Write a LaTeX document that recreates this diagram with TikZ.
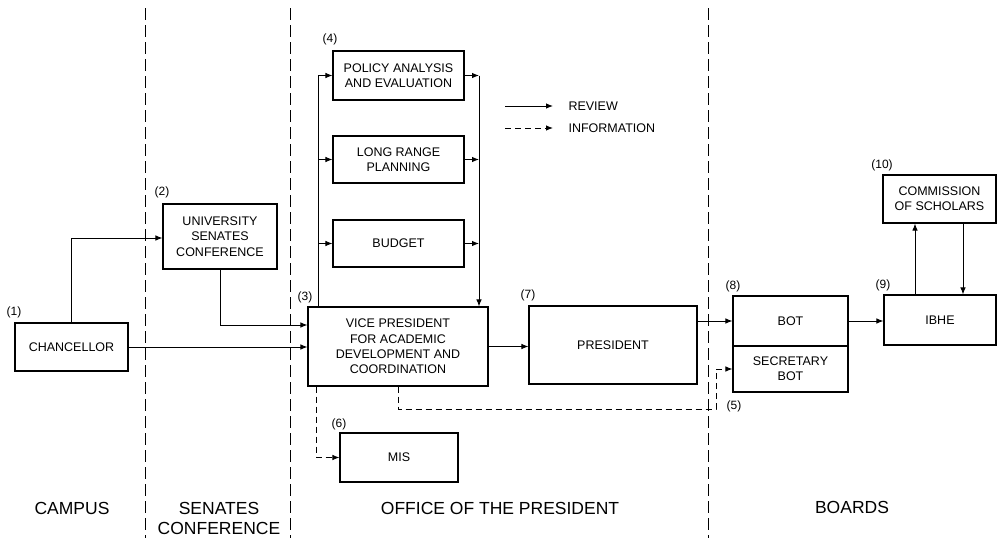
\documentclass[tikz,border=0pt]{standalone}
\usepackage{fontspec}
\setmainfont{Liberation Sans}
\usetikzlibrary{arrows.meta,calc}
\begin{document}
\begin{tikzpicture}[x=1pt,y=-1pt,
  box/.style={draw,line width=1.1pt,align=center,inner sep=2pt,
    font=\fontsize{12.5}{15.3}\selectfont},
  arr/.style={line width=0.9pt,-{Latex[length=7pt,width=5.5pt]}},
  darr/.style={arr,dash pattern=on 6pt off 4pt},
  lane/.style={line width=1.1pt,dash pattern=on 12pt off 5pt},
  num/.style={font=\fontsize{12}{13}\selectfont},
  area/.style={font=\fontsize{17.5}{20}\selectfont,align=center},
  legend/.style={font=\fontsize{12.5}{14}\selectfont,anchor=west}]
\useasboundingbox (0,0) rectangle (1001,538);
% lane separators
\coordinate (s1t) at (145.5,8); \coordinate (s1b) at (145.5,538);
\coordinate (s2t) at (290.5,8); \coordinate (s2b) at (290.5,538);
\coordinate (s3t) at (708.5,8); \coordinate (s3b) at (708.5,538);
\draw[lane] (s1t) -- (s1b);
\draw[lane] (s2t) -- (s2b);
\draw[lane] (s3t) -- (s3b);
% boxes
\node[box,minimum width=113pt,minimum height=48pt] (chan) at (71.5,347) {CHANCELLOR};
\node[box,minimum width=114pt,minimum height=65pt] (usc) at (220,236.5) {UNIVERSITY\\SENATES\\CONFERENCE};
\node[box,minimum width=180pt,minimum height=79pt] (vp) at (398,346.5) {VICE PRESIDENT\\FOR ACADEMIC\\DEVELOPMENT AND\\COORDINATION};
\node[box,minimum width=168pt,minimum height=78pt] (pres) at (613,345) {PRESIDENT};
\node[box,minimum width=131pt,minimum height=49pt] (pae) at (398.5,75.5) {POLICY ANALYSIS\\AND EVALUATION};
\node[box,minimum width=131pt,minimum height=47pt] (lrp) at (398.5,159.5) {LONG RANGE\\PLANNING};
\node[box,minimum width=131pt,minimum height=47pt] (bud) at (398.5,243.5) {BUDGET};
\node[box,minimum width=118pt,minimum height=49pt] (mis) at (399,457.5) {MIS};
\node[box,minimum width=115pt,minimum height=50pt] (bot) at (790.5,321) {BOT};
\node[box,minimum width=115pt,minimum height=46pt] (sec) at (790.5,369) {SECRETARY\\BOT};
\node[box,minimum width=112pt,minimum height=50pt] (ibhe) at (940,320) {IBHE};
\node[box,minimum width=113pt,minimum height=48pt] (cos) at (939.5,199) {COMMISSION\\OF SCHOLARS};
% numbers
\node[num] (n1) at (14,312) {(1)};
\node[num] (n2) at (162,192) {(2)};
\node[num] (n3) at (305,297) {(3)};
\node[num] (n4) at (330,39) {(4)};
\node[num] (n5) at (734,406) {(5)};
\node[num] (n6) at (339,424) {(6)};
\node[num] (n7) at (528,295) {(7)};
\node[num] (n8) at (733,286) {(8)};
\node[num] (n9) at (883,285) {(9)};
\node[num] (n10) at (882,165) {(10)};
% area labels
\node[area] (campus) at (72,508) {CAMPUS};
\node[area,anchor=north] (senc) at (219,499) {SENATES\\CONFERENCE};
\node[area] (office) at (500,508) {OFFICE OF THE PRESIDENT};
\node[area] (boards) at (852,507) {BOARDS};
% legend
\coordinate (l1s) at (505,106); \coordinate (l1e) at (553,106);
\coordinate (l2s) at (505,128); \coordinate (l2e) at (553,128);
\draw[arr] (l1s) -- (l1e);
\draw[darr] (l2s) -- (l2e);
\node[legend] (review) at (565,106) {REVIEW};
\node[legend] (info) at (565,128) {INFORMATION};
% connectors
\draw[arr] (chan.north) |- ([yshift=-1.5pt]usc.west);
\draw[arr] (usc.south) |- ([yshift=21.5pt]vp.west);
\draw[arr] (chan.east) -- (chan.east -| vp.west);
\coordinate (L) at (318,0);
\coordinate (R) at (479,0);
\draw[arr] (L |- vp.north) |- (pae.west);
\draw[arr] (L |- lrp.west) -- (lrp.west);
\draw[arr] (L |- bud.west) -- (bud.west);
\draw[arr] (pae.east) -- (pae.east -| R);
\draw[arr] (lrp.east) -- (lrp.east -| R);
\draw[arr] (bud.east) -- (bud.east -| R);
\draw[arr] (pae.east -| R) -- (R |- vp.north);
\draw[arr] (vp.east) -- (vp.east -| pres.west);
\draw[arr] (pres.east |- bot.west) -- (bot.west);
\coordinate (d1) at (716,409);
\draw[darr] (vp.south) |- (d1) |- (sec.west);
\draw[darr] ([xshift=9pt]vp.south west) |- (mis.west);
\draw[arr] (bot.east) -- (bot.east -| ibhe.west);
\draw[arr] ([xshift=-25pt]ibhe.north) -- ([xshift=-25pt]ibhe.north |- cos.south);
\draw[arr] ([xshift=23pt]ibhe.north |- cos.south) -- ([xshift=23pt]ibhe.north);
\end{tikzpicture}
\end{document}
